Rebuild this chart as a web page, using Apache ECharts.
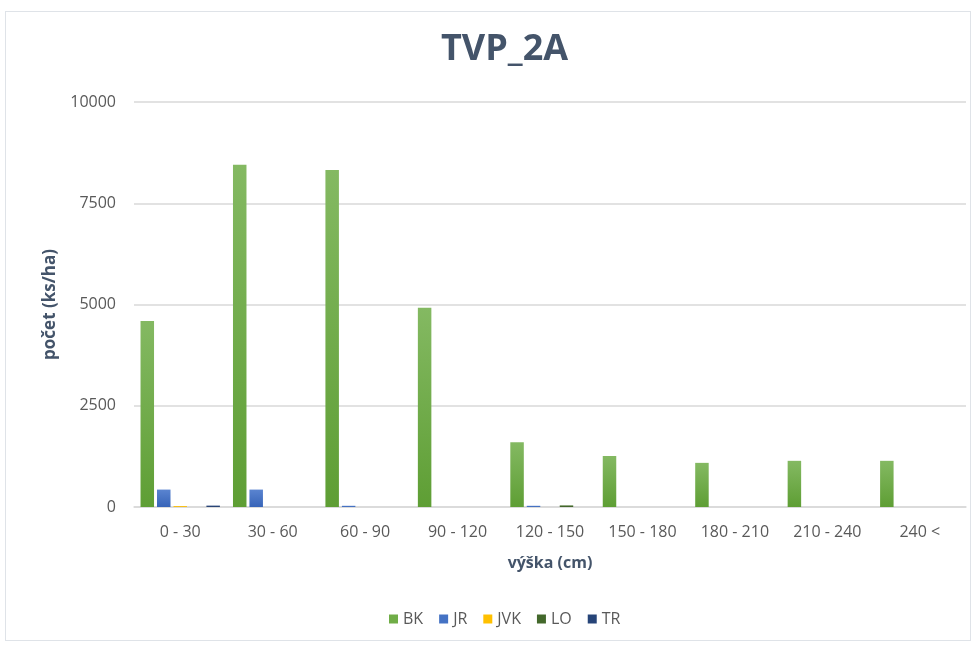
<!DOCTYPE html>
<html>
<head>
<meta charset="utf-8">
<script src="https://cdn.jsdelivr.net/npm/echarts@6/dist/echarts.min.js"></script>
<style>
	html, body { margin: 0; padding: 0; background: #fff; }
	.frame { position: absolute; left: 5px; top: 11px; width: 966px; height: 630px; border: 1px solid #dfe3e8; box-sizing: border-box; }
	#chart { width: 975px; height: 646px; }
</style>
</head>
<body>
<div class="frame"></div>
<div id="chart"></div>
<script>
// kategorie výšky
const categories = ['0 - 30', '30 - 60', '60 - 90', '90 - 120', '120 - 150', '150 - 180', '180 - 210', '210 - 240', '240 <']
const bkData = [4590, 8450, 8320, 4920, 1600, 1260, 1090, 1140, 1140]
const jrData = [430, 430, 30, 0, 30, 0, 0, 0, 0]
const jvkData = [25, 0, 0, 0, 0, 0, 0, 0, 0]
const loData = [0, 0, 0, 0, 40, 0, 0, 0, 0]
const trData = [35, 0, 0, 0, 0, 0, 0, 0, 0]
const yTicks = [0, 2500, 5000, 7500, 10000]

const textColor = '#44546a'
const labelColor = '#595959'
const fontFamily = '"Open Sans", "Noto Sans", sans-serif'

// gradient podobný Excelu
function grad(top, bottom) {
	return new echarts.graphic.LinearGradient(0, 0, 0, 1, [
		{ offset: 0, color: top },
		{ offset: 1, color: bottom },
	])
}

const seriesDefs = [
	{ name: 'BK', data: bkData, color: '#70ad47', fill: grad('#84b962', '#5e9e34') },
	{ name: 'JR', data: jrData, color: '#4472c4', fill: grad('#5a84d0', '#3764b8') },
	{ name: 'JVK', data: jvkData, color: '#ffc000', fill: grad('#ffcb33', '#f0b400') },
	{ name: 'LO', data: loData, color: '#43682b', fill: grad('#557a3b', '#3a5c24') },
	{ name: 'TR', data: trData, color: '#264478', fill: grad('#3a5689', '#203b6b') },
]

const chart = echarts.init(document.getElementById('chart'))
chart.setOption({
	animation: false,
	textStyle: { fontFamily },
	title: {
		text: 'TVP_2A',
		left: 436,
		top: 27,
		textStyle: { color: textColor, fontSize: 36, fontWeight: 'bold', fontFamily },
	},
	legend: {
		bottom: 14,
		left: 384,
		itemWidth: 9,
		itemHeight: 9,
		itemGap: 16,
		icon: 'rect',
		textStyle: { color: labelColor, fontSize: 16 },
		data: seriesDefs.map(s => ({ name: s.name, itemStyle: { color: s.color } })),
	},
	grid: { left: 134, right: 9, top: 102, bottom: 139 },
	xAxis: {
		type: 'category',
		data: categories,
		name: 'výška (cm)',
		nameLocation: 'middle',
		nameGap: 48,
		nameTextStyle: { color: textColor, fontSize: 16, fontWeight: 'bold' },
		axisLine: { lineStyle: { color: '#d9d9d9', width: 1.5 } },
		axisTick: { show: false },
		axisLabel: { color: labelColor, fontSize: 16, margin: 17 },
	},
	yAxis: {
		type: 'value',
		min: yTicks[0],
		max: yTicks[yTicks.length - 1],
		interval: yTicks[1] - yTicks[0],
		name: 'počet (ks/ha)',
		nameLocation: 'middle',
		nameGap: 75,
		nameTextStyle: { color: textColor, fontSize: 17, fontWeight: 'bold' },
		axisLine: { show: false },
		axisTick: { show: false },
		axisLabel: { color: labelColor, fontSize: 16, margin: 18, formatter: v => String(v) },
		splitLine: { lineStyle: { color: '#d9d9d9', width: 1.5 } },
	},
	series: seriesDefs.map(s => ({
		name: s.name,
		type: 'bar',
		data: s.data,
		barWidth: 13.5,
		barGap: '22%',
		barCategoryGap: '14%',
		itemStyle: { color: s.fill },
	})),
})
</script>
</body>
</html>
